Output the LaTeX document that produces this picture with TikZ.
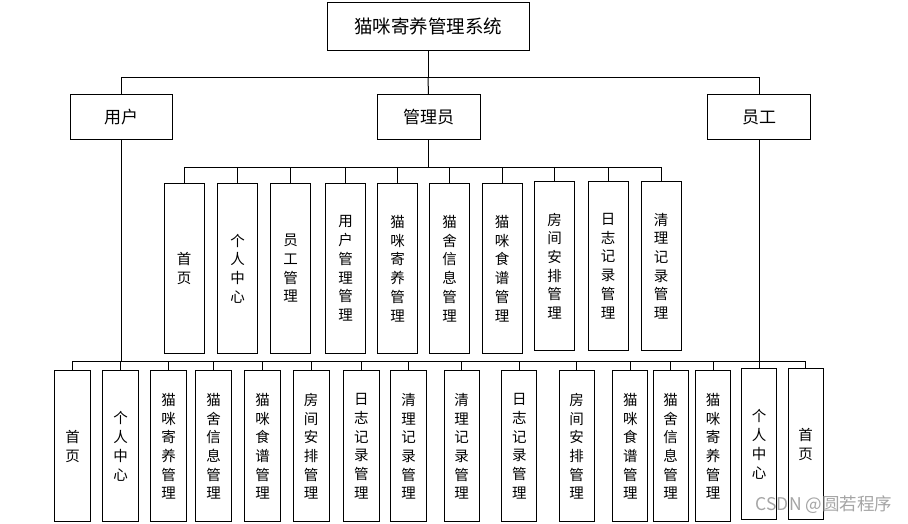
\documentclass[tikz,border=0pt]{standalone}
\usepackage{fontspec}
\newfontfamily\cjk{Noto Sans CJK SC}
\definecolor{wm}{RGB}{165,165,165}
\begin{document}
\begin{tikzpicture}[x=1pt,y=-1pt,
  box/.style={draw=black,line width=1pt,fill=white,inner sep=0pt,anchor=center},
  hbox/.style={box,font={\cjk\fontsize{17}{19}\selectfont}},
  vbox/.style={box,align=center,font={\cjk\fontsize{14.5}{18.7}\selectfont}},
  conn/.style={line width=1pt,black}]
\useasboundingbox (0,0) rectangle (908,524);
% top
\node[hbox,minimum width=202,minimum height=48,font={\cjk\fontsize{18.5}{20}\selectfont}] (top) at (428,26.5) {猫咪寄养管理系统};
\node[hbox,minimum width=102,minimum height=45] (user) at (121,117.5) {用户};
\node[hbox,minimum width=103,minimum height=45] (admin) at (428.5,117.5) {管理员};
\node[hbox,minimum width=103,minimum height=45] (staff) at (759,117.5) {员工};
\coordinate (b1) at (428,78);
\draw[conn] (top.south) -- (b1);
\draw[conn] (b1) -| (user.north);
\draw[conn] (b1) -| (staff.north);
\draw[conn] (b1) -- (admin.north);
% admin row
\node[vbox,minimum width=40,minimum height=169] (m1) at (184,268.5) {首\\页};
\node[vbox,minimum width=40,minimum height=169] (m2) at (237.5,268.5) {个\\人\\中\\心};
\node[vbox,minimum width=40,minimum height=169] (m3) at (290.5,268.5) {员\\工\\管\\理};
\node[vbox,minimum width=40,minimum height=169] (m4) at (345.5,268.5) {用\\户\\管\\理\\管\\理};
\node[vbox,minimum width=40,minimum height=169] (m5) at (397.5,268.5) {猫\\咪\\寄\\养\\管\\理};
\node[vbox,minimum width=40,minimum height=169] (m6) at (449.5,268.5) {猫\\舍\\信\\息\\管\\理};
\node[vbox,minimum width=40,minimum height=169] (m7) at (502,268.5) {猫\\咪\\食\\谱\\管\\理};
\node[vbox,minimum width=40,minimum height=168] (m8) at (554.5,266) {房\\间\\安\\排\\管\\理};
\node[vbox,minimum width=40,minimum height=168] (m9) at (608,266) {日\\志\\记\\录\\管\\理};
\node[vbox,minimum width=40,minimum height=168] (m10) at (661,266) {清\\理\\记\\录\\管\\理};
\coordinate (b2) at (428.5,168);
\draw[conn] (admin.south) -- (b2);
\foreach \i in {1,...,10} {\draw[conn] (b2) -| (m\i.north);}
% user row
\node[vbox,minimum width=36,minimum height=151] (u1) at (72.7,446.3) {首\\页};
\node[vbox,minimum width=36,minimum height=151] (u2) at (120.7,446.3) {个\\人\\中\\心};
\node[vbox,minimum width=36,minimum height=151] (u3) at (168.7,446.3) {猫\\咪\\寄\\养\\管\\理};
\node[vbox,minimum width=36,minimum height=151] (u4) at (213.7,446.3) {猫\\舍\\信\\息\\管\\理};
\node[vbox,minimum width=36,minimum height=151] (u5) at (262.7,446.3) {猫\\咪\\食\\谱\\管\\理};
\node[vbox,minimum width=36,minimum height=151] (u6) at (311,446.3) {房\\间\\安\\排\\管\\理};
\node[vbox,minimum width=36,minimum height=151] (u7) at (361.3,446.3) {日\\志\\记\\录\\管\\理};
\node[vbox,minimum width=36,minimum height=151] (u8) at (408.7,446.3) {清\\理\\记\\录\\管\\理};
% staff row
\node[vbox,minimum width=35,minimum height=151] (s1) at (461.7,446.3) {清\\理\\记\\录\\管\\理};
\node[vbox,minimum width=35,minimum height=151] (s2) at (519.3,446.3) {日\\志\\记\\录\\管\\理};
\node[vbox,minimum width=35,minimum height=151] (s3) at (576.7,446.3) {房\\间\\安\\排\\管\\理};
\node[vbox,minimum width=35,minimum height=151] (s4) at (630.3,446.3) {猫\\咪\\食\\谱\\管\\理};
\node[vbox,minimum width=35,minimum height=151] (s5) at (670.7,446.3) {猫\\舍\\信\\息\\管\\理};
\node[vbox,minimum width=35,minimum height=151] (s6) at (713,446.3) {猫\\咪\\寄\\养\\管\\理};
\node[vbox,minimum width=35,minimum height=151] (s7) at (759,444.3) {个\\人\\中\\心};
\node[vbox,minimum width=35,minimum height=151] (s8) at (805.7,444.3) {首\\页};
\coordinate (bu) at (121,361.5);
\coordinate (bs) at (759,361.5);
\draw[conn] (user.south) -- (bu);
\draw[conn] (staff.south) -- (bs);
\draw[conn] (bu) -- (bs);
\foreach \i in {1,...,8} {\draw[conn] (bu) -| (u\i.north); \draw[conn] (bs) -| (s\i.north);}
% watermark
\node[text=wm,font={\cjk\fontsize{17.5}{19}\selectfont},inner sep=0pt] (wmk) at (824,505) {CSDN @圆若程序};
\end{tikzpicture}
\end{document}
